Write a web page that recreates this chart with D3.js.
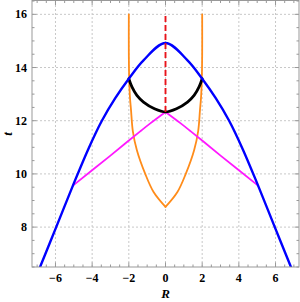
<!DOCTYPE html>
<html>
<head>
<meta charset="utf-8">
<script src="https://cdn.jsdelivr.net/npm/d3@7"></script>
<style>
  body { margin: 0; background: #fff; }
  text { font-family: "Liberation Serif", "DejaVu Serif", serif; font-weight: bold; }
</style>
</head>
<body>
<div id="chart"></div>
<script>
// Values (right half is the mirror image)
const blueR = [0, 1.2, 2, 2.74, 3.47, 4.2, 5.05, 5.96, 6.84];
const blueT = [14.92, 14.27, 13.58, 12.85, 12.0, 10.95, 9.56, 8.0, 6.5];

const blackR = [0, 0.6, 1.2, 1.56, 1.83, 2];
const blackT = [12.33, 12.45, 12.70, 12.95, 13.27, 13.58];

const pinkR = [0, 0.83, 1.38, 2.1, 3.02, 5.05];
const pinkT = [12.33, 11.90, 11.60, 11.20, 10.68, 9.56];

const orangeR = [0, 0.65, 1.11, 1.56, 1.78, 1.88, 1.94, 1.98, 2, 2];
const orangeT = [8.76, 9.32, 10.01, 10.89, 11.6, 12.4, 12.9, 13.6, 14.5, 16];

const redR = [0, 0];
const redT = [12.33, 16];

const xTicks = [-6, -4, -2, 0, 2, 4, 6];
const yTicks = [8, 10, 12, 14, 16];

const width = 300;
const height = 302;
const margin = { top: 0.5, right: 1, bottom: 35, left: 32 };

const x = d3.scaleLinear().domain([-7.28, 7.28]).range([margin.left, width - margin.right]);
const y = d3.scaleLinear().domain([6.5, 16.52]).range([height - margin.bottom, margin.top]);

const svg = d3.select("#chart").append("svg")
    .attr("width", width)
    .attr("height", height);

svg.append("clipPath").attr("id", "clip")
  .append("rect")
    .attr("x", x.range()[0]).attr("y", y.range()[1])
    .attr("width", x.range()[1] - x.range()[0])
    .attr("height", y.range()[0] - y.range()[1]);

// grid
const grid = svg.append("g").attr("stroke", "#c8c8c8").attr("stroke-dasharray", "2,2");
grid.selectAll(".gx").data(xTicks).enter().append("line")
    .attr("x1", d => x(d)).attr("x2", d => x(d))
    .attr("y1", y.range()[0]).attr("y2", y.range()[1]);
grid.selectAll(".gy").data(yTicks).enter().append("line")
    .attr("y1", d => y(d)).attr("y2", d => y(d))
    .attr("x1", x.range()[0]).attr("x2", x.range()[1]);

// mirror helper: build full symmetric curve
function mirror(rs, ts) {
  const left = rs.map((r, i) => [-r, ts[i]]).reverse();
  const right = rs.map((r, i) => [r, ts[i]]);
  return left.concat(right.slice(1));
}
function half(rs, ts, sign) {
  return rs.map((r, i) => [sign * r, ts[i]]);
}

const line = d3.line().x(d => x(d[0])).y(d => y(d[1])).curve(d3.curveCatmullRom);
const plot = svg.append("g").attr("clip-path", "url(#clip)").attr("fill", "none")
    .attr("stroke-linecap", "round").attr("stroke-linejoin", "round");

// orange, two halves meeting at a cusp
[-1, 1].forEach(s => {
  plot.append("path")
      .attr("d", line(half(orangeR, orangeT, s)))
      .attr("stroke", "#ff8c1a").attr("stroke-width", 1.8);
});

[-1, 1].forEach(s => {
  plot.append("path")
      .attr("d", line(half(pinkR, pinkT, s)))
      .attr("stroke", "#ff19ff").attr("stroke-width", 1.8);
});

plot.append("path")
    .attr("d", line(mirror(blackR, blackT)))
    .attr("stroke", "#000").attr("stroke-width", 2.8);

plot.append("path")
    .attr("d", line(mirror(blueR, blueT)))
    .attr("stroke", "#0000ff").attr("stroke-width", 2.4);

plot.append("path")
    .attr("d", d3.line().x(d => x(d[0])).y(d => y(d[1])) (redR.map((r, i) => [r, redT[i]])))
    .attr("stroke", "#e8141b").attr("stroke-width", 1.9)
    .attr("stroke-dasharray", "6,3").attr("stroke-linecap", "butt");

// frame with inward ticks on every side
const frame = svg.append("g").attr("stroke", "#999").attr("stroke-width", 1);
frame.append("rect")
    .attr("x", x.range()[0]).attr("y", y.range()[1])
    .attr("width", x.range()[1] - x.range()[0])
    .attr("height", y.range()[0] - y.range()[1])
    .attr("fill", "none");

const xMinor = d3.range(-7, 7.01, 0.5);
const yMinor = d3.range(6.5, 16.51, 0.5);
xMinor.forEach(v => {
  const len = xTicks.includes(v) ? 4.5 : 2.5;
  frame.append("line").attr("x1", x(v)).attr("x2", x(v))
      .attr("y1", y.range()[0]).attr("y2", y.range()[0] - len);
  frame.append("line").attr("x1", x(v)).attr("x2", x(v))
      .attr("y1", y.range()[1]).attr("y2", y.range()[1] + len);
});
yMinor.forEach(v => {
  const len = yTicks.includes(v) ? 4.5 : 2.5;
  frame.append("line").attr("y1", y(v)).attr("y2", y(v))
      .attr("x1", x.range()[0]).attr("x2", x.range()[0] + len);
  frame.append("line").attr("y1", y(v)).attr("y2", y(v))
      .attr("x1", x.range()[1]).attr("x2", x.range()[1] - len);
});

// tick labels
svg.selectAll(".xl").data(xTicks).enter().append("text")
    .attr("x", d => x(d)).attr("y", 282)
    .attr("text-anchor", "middle").attr("font-size", 12)
    .text(d => d < 0 ? "\u2212" + Math.abs(d) : d);
svg.selectAll(".yl").data(yTicks).enter().append("text")
    .attr("x", 27).attr("y", d => y(d) + 4)
    .attr("text-anchor", "end").attr("font-size", 12)
    .text(d => d);

// axis labels
svg.append("text")
    .attr("x", x(0)).attr("y", 298)
    .attr("text-anchor", "middle").attr("font-size", 13)
    .attr("font-style", "italic").text("R");
svg.append("text")
    .attr("transform", `translate(12,${y(11.5)}) rotate(-90)`)
    .attr("text-anchor", "middle").attr("font-size", 13)
    .attr("font-style", "italic").text("t");
</script>
</body>
</html>
